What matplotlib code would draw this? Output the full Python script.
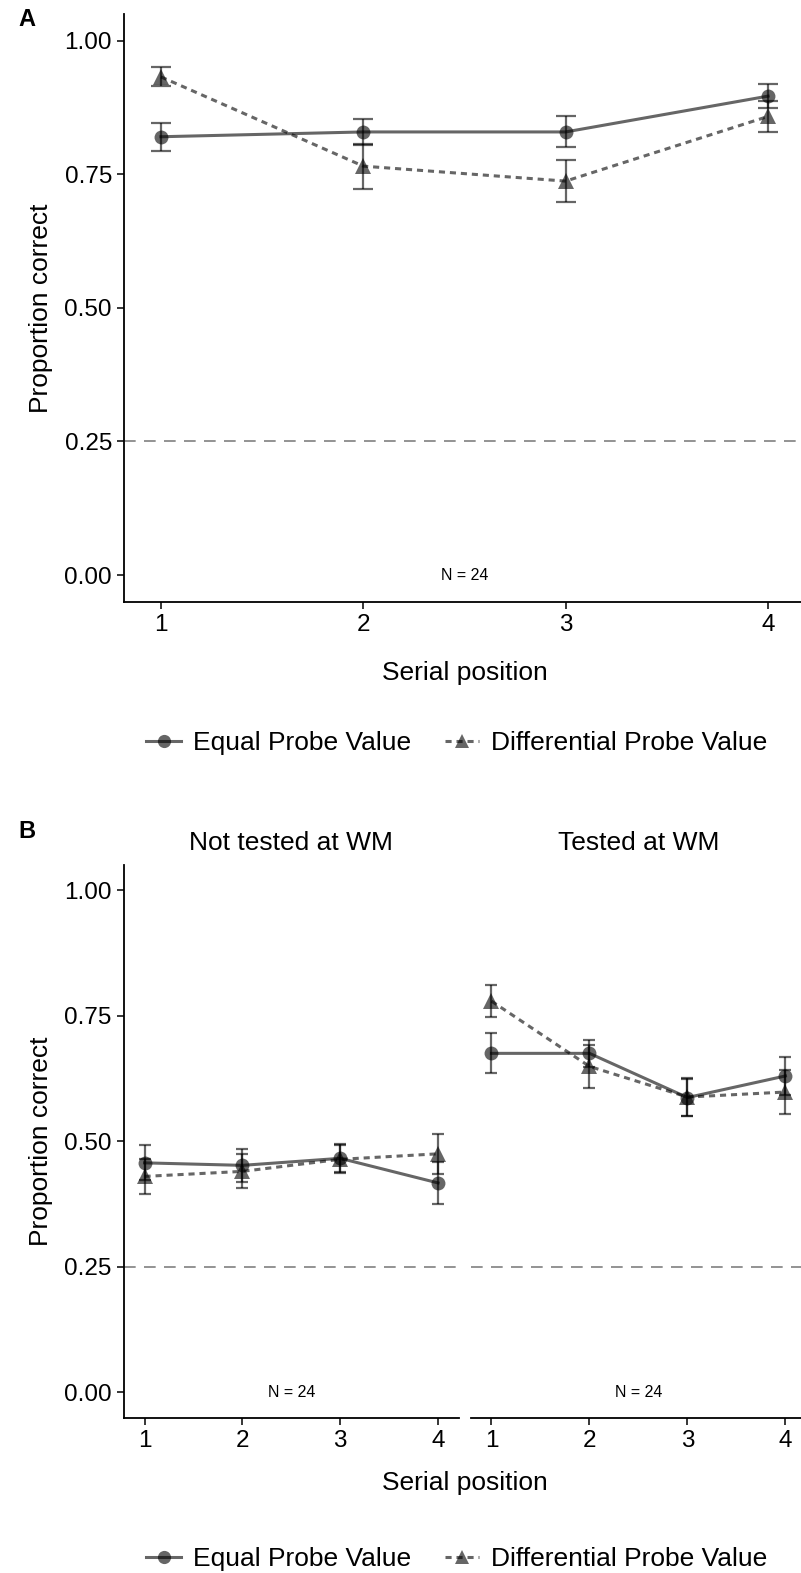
import numpy as np
import matplotlib.pyplot as plt
from matplotlib.lines import Line2D

plt.rcParams['font.family'] = ['Liberation Sans', 'DejaVu Sans']

positions = [1, 2, 3, 4]
series_names = ["Equal Probe Value", "Differential Probe Value"]

# panel A: all items
equal_a = [0.820, 0.829, 0.829, 0.896]
equal_a_se = [0.026, 0.024, 0.029, 0.023]
diff_a = [0.932, 0.765, 0.737, 0.858]
diff_a_se = [0.018, 0.042, 0.039, 0.029]

# panel B: split by whether the item was tested at WM
facet_titles = ["Not tested at WM", "Tested at WM"]
equal_b = [[0.457, 0.452, 0.466, 0.417], [0.675, 0.675, 0.587, 0.630]]
equal_b_se = [[0.035, 0.033, 0.028, 0.042], [0.040, 0.027, 0.037, 0.037]]
diff_b = [[0.430, 0.440, 0.464, 0.475], [0.779, 0.649, 0.588, 0.598]]
diff_b_se = [[0.035, 0.034, 0.028, 0.040], [0.032, 0.042, 0.037, 0.043]]

chance = 0.25
n_label = "N = 24"
yticks = [0.0, 0.25, 0.5, 0.75, 1.0]

W, H = 801, 1573
fig = plt.figure(figsize=(W / 100, H / 100), dpi=100)


def px_axes(left, top, right, bottom):
    return fig.add_axes([left / W, 1 - bottom / H, (right - left) / W, (bottom - top) / H])


def style_axes(ax, show_y=True):
    for s in ["top", "right"]:
        ax.spines[s].set_visible(False)
    ax.spines["bottom"].set_linewidth(1.3)
    ax.spines["left"].set_linewidth(1.3)
    ax.tick_params(direction="out", length=5, width=1.1, labelsize=17.5, pad=4)
    ax.set_ylim(-0.05, 1.05)
    ax.set_xticks(positions)
    if show_y:
        ax.set_yticks(yticks)
        ax.set_yticklabels([f"{v:.2f}" for v in yticks])
    else:
        ax.spines["left"].set_visible(False)
        ax.set_yticks([])


def draw_series(ax, eq, eq_se, df, df_se, cap):
    ax.axhline(chance, color="#808080", lw=1.2, dashes=(7, 5), zorder=1)
    ax.errorbar(positions, eq, yerr=eq_se, color="black", alpha=0.6, lw=1.6,
                capsize=cap, capthick=1.6, fmt="none", zorder=2)
    ax.errorbar(positions, df, yerr=df_se, color="black", alpha=0.6, lw=1.6,
                capsize=cap, capthick=1.6, fmt="none", zorder=2)
    ax.plot(positions, eq, color="black", alpha=0.6, lw=2.2, marker="o",
            markersize=10, markeredgewidth=0, zorder=3)
    ax.plot(positions, df, color="black", alpha=0.6, lw=2.2, ls=(0, (2, 1.6)),
            marker="^", markersize=11, markeredgewidth=0, zorder=3)
    ax.text(2.5, 0.0, n_label, ha="center", va="center", fontsize=11.5)


def add_legend(y):
    handles = [
        Line2D([], [], color="black", alpha=0.6, lw=2.2, marker="o", markersize=9.5,
               markeredgewidth=0),
        Line2D([], [], color="black", alpha=0.6, lw=2.2, ls=(0, (2, 1.6)), marker="^",
               markersize=10.5, markeredgewidth=0),
    ]
    fig.legend(handles, series_names, loc="center", bbox_to_anchor=(457 / W, 1 - y / H),
               ncol=2, frameon=False, fontsize=19, handlelength=1.3, handletextpad=0.45,
               columnspacing=1.3)


# panel A
ax_a = px_axes(124.5, 13.8, 804.5, 601.8)
style_axes(ax_a)
ax_a.set_xlim(0.82, 4.18)
draw_series(ax_a, equal_a, equal_a_se, diff_a, diff_a_se, cap=7)
ax_a.set_ylabel("Proportion correct", fontsize=19, labelpad=8)
ax_a.set_xlabel("Serial position", fontsize=19, labelpad=18)
fig.text(18 / W, 1 - 20 / H, "A", fontsize=17, fontweight="bold", ha="left", va="center")
add_legend(743)

# panel B
ax_b1 = px_axes(124.0, 865, 458.6, 1417.5)
ax_b2 = px_axes(470.9, 865, 806.0, 1417.5)
for i, ax in enumerate([ax_b1, ax_b2]):
    style_axes(ax, show_y=(i == 0))
    ax.set_xlim(0.79, 4.21)
    draw_series(ax, equal_b[i], equal_b_se[i], diff_b[i], diff_b_se[i], cap=4.5)
    ax.set_title(facet_titles[i], fontsize=19, pad=11)
ax_b1.set_ylabel("Proportion correct", fontsize=19, labelpad=8)
fig.text(465 / W, 1 - 1483 / H, "Serial position", fontsize=19, ha="center", va="center")
fig.text(18 / W, 1 - 832 / H, "B", fontsize=17, fontweight="bold", ha="left", va="center")
add_legend(1559)

fig.savefig("out.png", dpi=100)
